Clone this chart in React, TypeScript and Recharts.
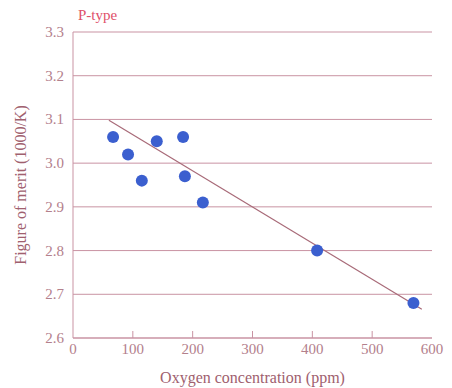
import React from 'react';
import {
  ScatterChart, Scatter, XAxis, YAxis, CartesianGrid, Label,
} from 'recharts';

// Measured points (oxygen ppm vs figure of merit)
const oxygenPpm = [67, 92, 115, 140, 184, 187, 217, 408, 569];
const meritValues = [3.06, 3.02, 2.96, 3.05, 3.06, 2.97, 2.91, 2.8, 2.68];

// Endpoints of the fitted straight line
const fitPpm = [60, 583];
const fitMerit = [3.098, 2.666];

const xTicks = [0, 100, 200, 300, 400, 500, 600];
const yTicks = [2.6, 2.7, 2.8, 2.9, 3.0, 3.1, 3.2, 3.3];

const points = oxygenPpm.map((x, i) => ({ x, y: meritValues[i] }));
const fitLine = fitPpm.map((x, i) => ({ x, y: fitMerit[i] }));

const FONT = '"Liberation Serif", "DejaVu Serif", serif';
const GRID = '#c993a3';
const TEXT = '#b3808c';
const LABEL = '#a0606e';

const XTick = (props: any) => {
  const { x, y, payload } = props;
  const inner = payload.value !== 0 && payload.value !== 600;
  return (
    <g>
      {inner && <line x1={x} x2={x} y1={y - 10} y2={y - 17} stroke={GRID} strokeWidth={1} />}
      <text x={x} y={y + 6} textAnchor="middle" fill={TEXT} fontSize={15} fontFamily={FONT}>
        {payload.value}
      </text>
    </g>
  );
};

const YTick = (props: any) => {
  const { x, y, payload } = props;
  return (
    <text x={x} y={y} textAnchor="end" dominantBaseline="central" fill={TEXT} fontSize={15} fontFamily={FONT}>
      {Number(payload.value).toFixed(1)}
    </text>
  );
};

export default function App() {
  return (
    <div style={{ position: 'fixed', left: 0, top: 0, background: '#fff', width: 452, height: 388 }}>
      <div style={{
        position: 'absolute', left: 78, top: 7, color: '#e0506a', fontFamily: FONT, fontSize: 15,
      }}>
        P-type
      </div>
      <ScatterChart
        width={452}
        height={388}
        margin={{ top: 32, right: 20, bottom: 0, left: 33 }}
        style={{ fontFamily: FONT, overflow: 'visible' }}
      >
        <CartesianGrid vertical={false} stroke={GRID} strokeWidth={1} />
        <XAxis
          type="number"
          dataKey="x"
          domain={[0, 600]}
          ticks={xTicks}
          tickSize={0}
          tickMargin={10}
          axisLine={{ stroke: GRID }}
          tick={<XTick />}
          height={50}
        >
          <Label
            content={(p: any) => {
              const vb = p.viewBox;
              return (
                <text
                  x={vb.x + vb.width / 2}
                  y={377}
                  textAnchor="middle"
                  dominantBaseline="central"
                  fill={LABEL}
                  fontSize={16}
                  fontFamily={FONT}
                >
                  Oxygen concentration (ppm)
                </text>
              );
            }}
          />
        </XAxis>
        <YAxis
          type="number"
          dataKey="y"
          domain={[2.6, 3.3]}
          ticks={yTicks}
          tickLine={false}
          axisLine={{ stroke: GRID }}
          tickMargin={3}
          width={40}
          tick={<YTick />}
        >
          <Label
            content={(p: any) => {
              const vb = p.viewBox;
              const cx = 20;
              const cy = vb.y + vb.height / 2;
              return (
                <text
                  x={cx}
                  y={cy}
                  transform={`rotate(-90 ${cx} ${cy})`}
                  textAnchor="middle"
                  dominantBaseline="central"
                  fill={LABEL}
                  fontSize={16}
                  fontFamily={FONT}
                >
                  Figure of merit (1000/K)
                </text>
              );
            }}
          />
        </YAxis>
        <YAxis yAxisId="r" orientation="right" width={0} tick={false} tickLine={false} axisLine={{ stroke: GRID }} />
        <Scatter
          data={fitLine}
          line={{ stroke: '#a86a78', strokeWidth: 1.2 }}
          shape={() => null}
          isAnimationActive={false}
        />
        <Scatter
          data={points}
          fill="#3b5fcf"
          shape={(p: any) => <circle cx={p.cx} cy={p.cy} r={6} fill="#3b5fcf" />}
          isAnimationActive={false}
        />
      </ScatterChart>
    </div>
  );
}
